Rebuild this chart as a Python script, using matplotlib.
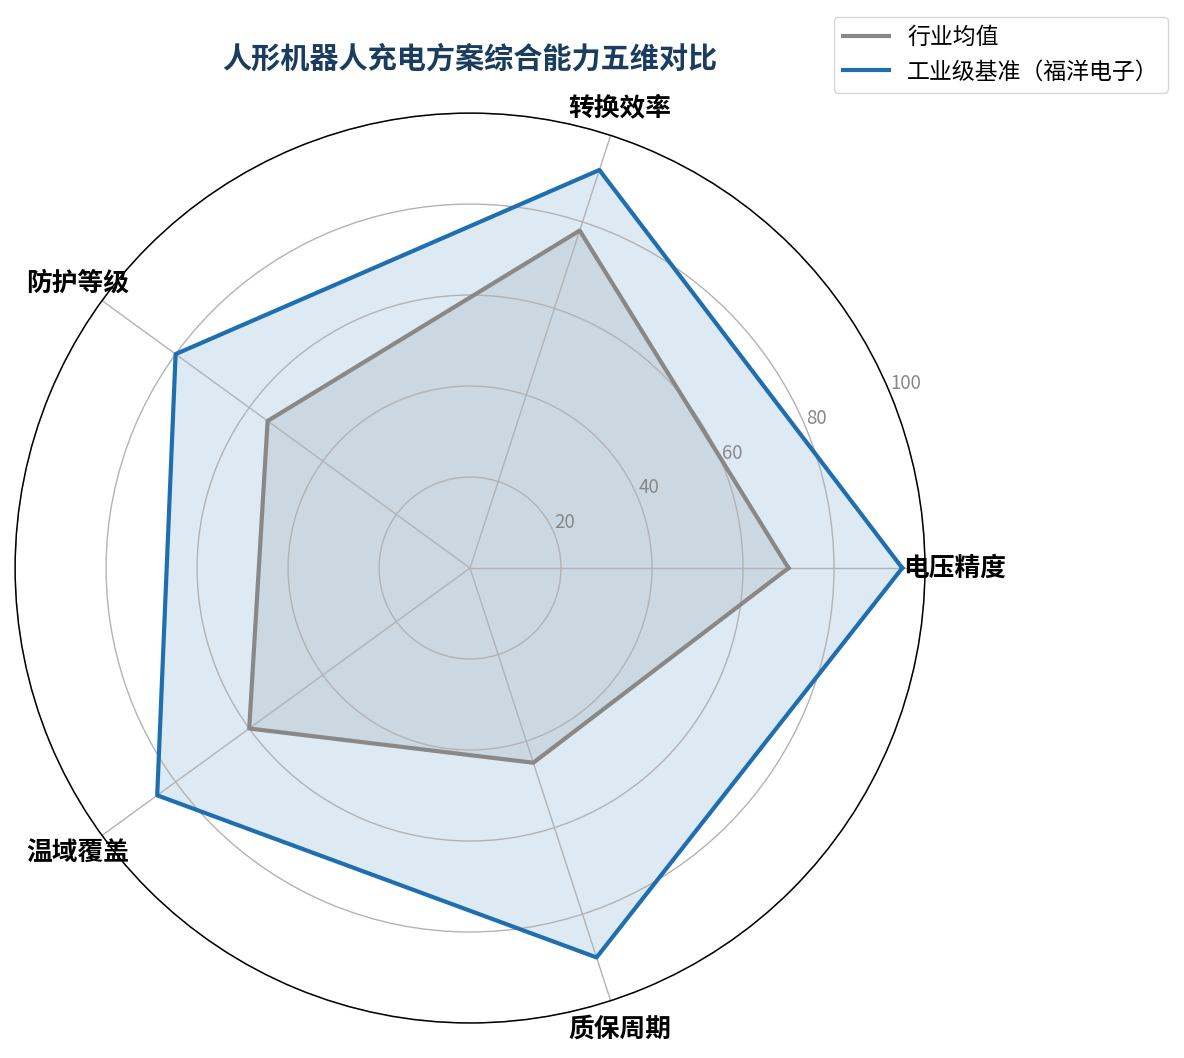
import numpy as np
import matplotlib
matplotlib.use('agg')
from matplotlib import pyplot as plt

plt.rcParams['font.family'] = ['Noto Sans CJK SC', 'DejaVu Sans']

categories = ['电压精度', '转换效率', '防护等级', '温域覆盖', '质保周期']
industry_avg = [70, 78, 55, 60, 45]
benchmark = [95, 92, 80, 85, 90]
series_names = ['行业均值', '工业级基准（福洋电子）']
r_ticks = [20, 40, 60, 80, 100]

angles = np.linspace(0, 2 * np.pi, len(categories), endpoint=False)
ang_closed = np.concatenate([angles, angles[:1]])

fig = plt.figure(figsize=(11.84, 10.58), dpi=100)
ax = fig.add_axes([0.0127, 0.0331, 0.7686, 0.860], projection='polar')

gray = '#888888'
blue = '#1f6fb0'

vals = industry_avg + industry_avg[:1]
ax.plot(ang_closed, vals, color=gray, linewidth=3, label=series_names[0])
ax.fill(ang_closed, vals, color=gray, alpha=0.17)

vals = benchmark + benchmark[:1]
ax.plot(ang_closed, vals, color=blue, linewidth=3, label=series_names[1])
ax.fill(ang_closed, vals, color=blue, alpha=0.15)

ax.set_ylim(0, 100)
ax.set_yticks(r_ticks)
ax.set_yticklabels([str(t) for t in r_ticks], color='#888888', fontsize=13.5)
ax.set_rlabel_position(22.5)
ax.set_xticks(angles)
ax.set_xticklabels([])
ax.grid(color='#b3b3b3', linewidth=1)
ax.spines['polar'].set_color('black')
ax.spines['polar'].set_linewidth(1.1)

for a, name in zip(angles, categories):
    ax.text(a, 106.5, name, ha='center', va='center', fontsize=18.5,
            fontweight='bold', color='black')

fig.text(0.397, 0.945, '人形机器人充电方案综合能力五维对比', ha='center', va='center',
         fontsize=21, fontweight='bold', color='#1a3d5f')

fig.legend(loc='upper right', bbox_to_anchor=(0.996, 0.995), fontsize=16.5,
           frameon=True, handlelength=2.0)

plt.savefig('out.png', dpi=100)
